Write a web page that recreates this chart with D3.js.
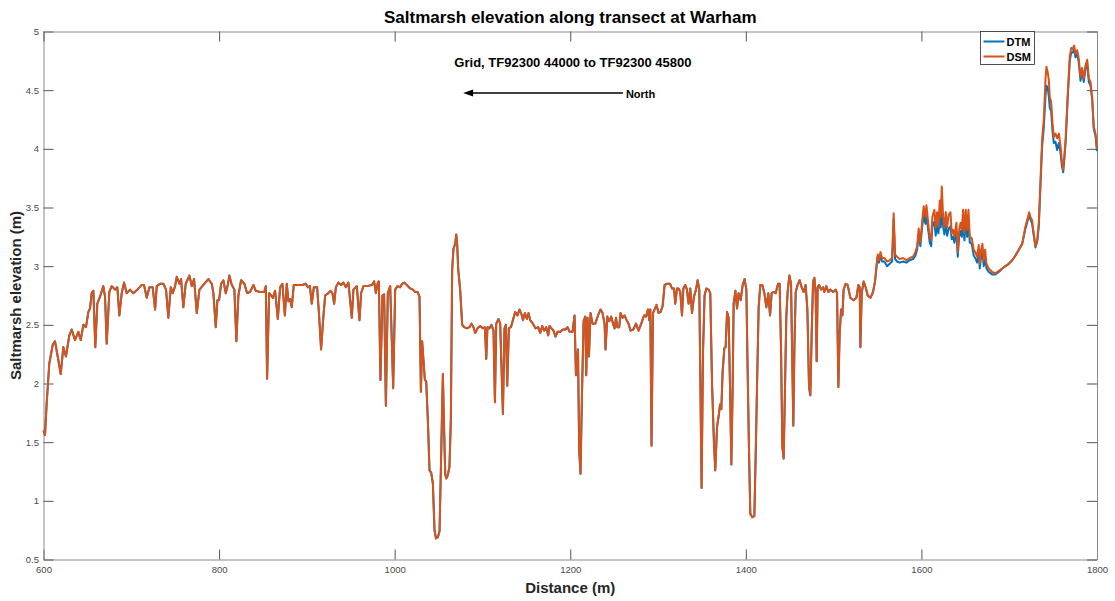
<!DOCTYPE html>
<html>
<head>
<meta charset="utf-8">
<script src="https://cdn.jsdelivr.net/npm/d3@7"></script>
<style>
body { margin: 0; background: #fff; }
svg text { font-family: "Liberation Sans", Arial, Helvetica, sans-serif; }
</style>
</head>
<body>
<div id="chart"></div>
<script>

// elevation profile, [distance (m), elevation (m)]
var dsmProfile = [
  [600,1.60],[601.7,1.56],[603.6,1.83],[606.6,2.17],[610.5,2.33],[613.1,2.36],[616.9,2.20],[619.6,2.08],
  [622.6,2.31],[625.6,2.23],[629.4,2.41],[632.1,2.46],[635.9,2.37],[639.7,2.44],[642.4,2.37],[645.4,2.50],
  [648.4,2.48],[651.1,2.61],[653,2.64],[654.9,2.77],[656.8,2.79],[659,2.31],[661.3,2.68],[664.4,2.74],
  [668.1,2.83],[670.1,2.74],[672,2.34],[675,2.78],[677.7,2.83],[681.5,2.80],[684.1,2.82],[686.4,2.58],
  [689.1,2.77],[691.7,2.86],[694.8,2.77],[698.6,2.80],[702.3,2.77],[706.9,2.80],[711.9,2.84],[714.5,2.84],
  [717.6,2.73],[720.6,2.82],[724.4,2.82],[727.1,2.63],[729,2.83],[732.8,2.85],[736.5,2.85],[739.6,2.80],
  [742.2,2.56],[745,2.82],[747.2,2.77],[749.9,2.83],[751.8,2.91],[754.8,2.85],[756.7,2.89],[759.3,2.65],
  [762,2.85],[766.2,2.92],[768.9,2.83],[771.5,2.89],[774.6,2.60],[777.6,2.80],[782.1,2.84],[787.8,2.89],
  [791.7,2.85],[793.5,2.77],[796.2,2.48],[798.1,2.71],
  [800,2.71],[802.3,2.85],[804.9,2.88],[807.6,2.77],[809.9,2.84],[811.7,2.92],[814.5,2.84],[817.4,2.80],
  [819.7,2.36],[822,2.75],[825.1,2.88],[828.8,2.85],[831.9,2.77],[835.3,2.78],[839.1,2.84],[841.8,2.79],
  [846.7,2.78],[851.6,2.78],[853.2,2.83],[854.7,2.04],[857,2.77],[859.3,2.75],[861.2,2.73],[863.8,2.79],
  [866.9,2.55],[869.5,2.82],[872.1,2.85],[874.9,2.58],[877.1,2.85],[879,2.70],[880.9,2.72],[882.8,2.65],
  [885.1,2.84],[889.7,2.84],[894.9,2.84],[898.8,2.85],[901.1,2.82],[903.4,2.83],[905.6,2.68],[907.9,2.82],
  [911.7,2.82],[914,2.57],[916.2,2.29],[918.5,2.54],[920.8,2.75],[924.5,2.77],[926.8,2.79],[929.1,2.77],
  [931.1,2.68],[933,2.82],[936,2.86],[939,2.84],[941.6,2.86],[944.4,2.82],[947.3,2.86],[951.2,2.56],
  [953,2.80],[956.9,2.83],[959.9,2.54],[961.8,2.77],[964.4,2.83],[968.3,2.83],[974,2.84],[976.6,2.87],
  [978.6,2.77],[980.8,2.86],[982,2.87],[983.8,2.03],[986.1,2.75],[988,2.76],[990,1.81],[992.2,2.77],
  [994.9,2.83],[998.3,1.96],
  [1000.6,2.80],[1003.2,2.83],[1006.3,2.82],[1008.5,2.85],[1010.8,2.86],[1013.9,2.84],[1017.7,2.81],
  [1020.7,2.80],[1023.4,2.78],[1026,2.78],[1028.3,2.74],[1029.9,1.93],[1031.3,2.36],[1032.8,2.20],
  [1034.4,2.03],[1035.9,2.02],[1037.8,1.69],[1039.7,1.26],[1041.6,1.24],[1043.5,1.15],[1045.4,0.75],
  [1047,0.68],[1049.2,0.69],[1051.1,0.74],[1053,1.40],[1054.9,2.08],[1056.4,1.58],[1057.6,1.23],
  [1058.7,1.19],[1060.6,1.22],[1062.4,1.29],[1064,1.69],[1065.5,2.97],[1067,3.15],[1069,3.19],
  [1070.1,3.27],[1071.2,3.19],[1072.4,2.97],[1074.6,2.80],[1076.9,2.50],[1079.2,2.48],[1082.3,2.47],
  [1085.2,2.48],[1087.5,2.51],[1089.8,2.48],[1091.7,2.43],[1094.4,2.47],[1097.4,2.49],[1100.5,2.47],
  [1102.8,2.48],[1104.3,2.21],[1105.7,2.48],[1108,2.47],[1110.3,2.50],[1112.6,2.45],[1114.2,1.84],
  [1115.7,2.51],[1118.3,2.55],[1120.2,2.51],[1123.3,1.74],[1125.1,2.47],[1126.7,2.50],[1128.2,1.98],
  [1130.1,2.47],[1132.4,2.48],[1134.7,2.54],[1137.3,2.61],[1139.9,2.58],[1142.2,2.63],[1144.5,2.59],
  [1146.1,2.54],[1148.4,2.60],[1150.6,2.55],[1152.5,2.60],[1154.4,2.54],[1157.5,2.51],[1160.4,2.47],
  [1163.5,2.48],[1165.8,2.43],[1168.1,2.49],[1170.3,2.45],[1172.6,2.48],[1174.9,2.41],[1176.4,2.49],
  [1178.7,2.47],[1181,2.45],[1183.2,2.40],[1185.5,2.44],[1188.6,2.44],[1191.7,2.46],[1194.3,2.46],
  [1196.9,2.48],[1199.2,2.44],
  [1202.6,2.44],[1204.9,2.58],[1206.5,2.07],[1208.8,2.29],[1210.2,1.43],[1211.7,1.23],[1213.3,1.89],
  [1215.2,2.53],[1217.1,2.57],[1218.2,2.07],[1219.7,2.56],[1221.3,2.23],[1223.1,2.60],[1225.4,2.51],
  [1228.5,2.51],[1231.6,2.58],[1234.5,2.63],[1236.8,2.60],[1239.1,2.51],[1240.2,2.29],[1242.2,2.57],
  [1244.4,2.53],[1246.7,2.57],[1248.7,2.51],[1250.5,2.47],[1252.1,2.56],[1253.6,2.48],[1255.8,2.48],
  [1257.3,2.60],[1259.6,2.56],[1261.9,2.58],[1264.2,2.54],[1266.4,2.51],[1268.7,2.45],[1271.8,2.46],
  [1274.9,2.51],[1277.8,2.45],[1280.9,2.51],[1284,2.58],[1286.3,2.57],[1288.5,2.63],[1290,2.54],
  [1291.2,2.63],[1292.6,1.47],[1294.2,2.60],[1296,2.63],[1298.3,2.67],[1300.6,2.60],[1302.9,2.61],
  [1305.2,2.66],[1307.5,2.84],[1310.5,2.85],[1313.6,2.85],[1315.9,2.81],[1318.2,2.81],[1319.6,2.68],
  [1321.6,2.81],[1323.4,2.81],[1325.3,2.78],[1327.3,2.58],[1328.8,2.81],[1331,2.84],[1332.9,2.80],
  [1334.8,2.68],[1336.7,2.81],[1338.7,2.60],[1340.9,2.74],[1343.2,2.80],[1345.1,2.88],[1347,2.80],
  [1348.5,1.83],[1349.6,1.11],[1351.2,2.26],[1353,2.75],[1355,2.81],[1357.6,2.80],[1359.5,2.77],
  [1361.5,2.00],[1363.7,1.49],[1365.2,1.26],[1367.2,1.63],[1369,1.72],[1370.6,1.82],[1372.1,1.78],
  [1373.5,2.09],[1375.5,2.30],[1377,2.31],[1378.6,2.61],[1380.4,2.56],[1382,1.97],[1383.5,1.31],
  [1385,1.97],[1386.1,2.68],[1388.1,2.79],[1390,2.64],[1391.8,2.77],[1394.1,2.71],[1396.4,2.84],
  [1398.6,2.89],
  [1400.6,2.80],[1402,2.14],[1403.6,1.43],[1405.1,0.89],[1407.4,0.86],[1409.7,0.87],[1411.2,1.38],
  [1412.8,2.00],[1414.6,2.65],[1416.5,2.84],[1418.8,2.84],[1421.1,2.77],[1423.4,2.65],[1425.6,2.77],
  [1427.6,2.58],[1429.4,2.77],[1431.7,2.78],[1434,2.77],[1436.7,2.85],[1438.5,2.85],[1440.1,2.29],
  [1441.6,1.46],[1443.1,1.36],[1444.7,2.00],[1446.1,2.57],[1447.6,2.78],[1449.6,2.92],[1451.5,2.85],
  [1453,2.14],[1454.1,1.64],[1455.3,2.29],[1456.8,2.78],[1459,2.84],[1461.3,2.88],[1463.6,2.82],
  [1465.9,2.78],[1468.1,2.84],[1470.1,2.63],[1472,1.97],[1473.5,1.90],[1475,2.43],[1476.6,2.87],
  [1478.1,2.90],[1479.5,2.77],[1480.7,2.19],[1481.8,2.82],[1483.4,2.84],[1485.7,2.80],[1488,2.82],
  [1489.4,2.78],[1491.7,2.83],[1494,2.78],[1496.3,2.80],[1499.4,2.78],[1502.3,2.80],[1503.9,2.77],
  [1505.4,1.97],[1506.9,2.43],[1508.5,2.63],[1510,2.58],[1511.4,2.80],[1513.7,2.85],[1516,2.84],
  [1519.1,2.73],[1522.8,2.71],[1525.9,2.73],[1528.2,2.84],[1529.7,2.82],[1530.5,2.31],[1532,2.77],
  [1534.2,2.87],[1536.5,2.82],[1538.8,2.75],[1541.9,2.73],
  [1544.9,2.78],[1547.2,2.87],[1548.7,3.00],[1550.2,3.10],[1551.8,3.05],[1553.3,3.12],[1555.2,3.07],
  [1557.8,3.07],[1560.9,3.04],[1563.8,3.05],[1566.6,3.07],[1568.4,3.45],[1570,3.10],[1572.3,3.08],
  [1575.2,3.06],[1579.1,3.07],[1582.9,3.05],[1586.6,3.07],[1590.5,3.08],[1593.1,3.12],[1595.1,3.17],
  [1596.9,3.32],[1598.8,3.20],[1600.8,3.38],[1602.6,3.51],[1604.6,3.42],[1605.7,3.52],[1607.6,3.38],
  [1609.5,3.25],[1611.1,3.22],[1612.5,3.42],[1614.8,3.48],[1616.3,3.33],[1617.9,3.46],[1619.4,3.34],
  [1620.9,3.56],[1622,3.42],[1623.2,3.68],[1624.7,3.42],[1626.2,3.33],[1627.7,3.46],[1629.3,3.33],
  [1631.1,3.44],[1633.1,3.46],[1634.5,3.28],[1636.1,3.31],[1637.6,3.25],[1639.9,3.37],[1641.4,3.12],
  [1643,3.31],[1644.6,3.37],[1646,3.31],[1647.5,3.48],[1649,3.28],[1650.5,3.48],[1652.1,3.31],
  [1653.6,3.48],[1655.1,3.25],[1657.3,3.24],[1659.6,3.14],[1661.9,3.11],[1663.5,3.08],[1665.3,3.18],
  [1666.5,3.02],[1668,3.14],[1669.5,3.19],[1671,3.05],[1672.6,3.14],[1674.1,3.02],[1676.7,2.98],
  [1680.6,2.95],[1684.3,2.94],[1688.1,2.96],[1692,2.98],[1695.7,3.00],[1699.5,3.02],[1703.4,3.05],
  [1707.1,3.09],[1710.9,3.14],[1714.8,3.19],[1718.5,3.34],[1721.1,3.41],[1722.7,3.46],[1724.2,3.42],
  [1726.1,3.39],[1728,3.27],[1729.9,3.17],[1731.9,3.22],[1733.7,3.37],[1735.6,3.73],[1737.5,4.08],
  [1739.4,4.25],[1741.3,4.59],[1742.4,4.70],[1743.9,4.65],[1745.1,4.59],[1746.2,4.44],[1747.8,4.40],
  [1749.3,4.22],[1750.8,4.10],[1752.7,4.13],[1754.6,4.09],[1756.5,4.13],[1758.4,4.03],[1759.9,3.90],
  [1761.5,3.82],[1762.9,3.95],[1764.4,4.10],[1766.7,4.47],[1769,4.79],[1770.6,4.86],[1772.4,4.85],
  [1774,4.88],[1775.5,4.81],[1777.4,4.84],[1779.2,4.77],[1781.2,4.61],[1783.1,4.69],[1784.9,4.60],
  [1786.9,4.71],[1788.8,4.76],[1790.7,4.60],[1792.6,4.57],[1794.5,4.44],[1796.3,4.19],[1798.3,4.13],
  [1800,4.00]
];

// DTM only separates from DSM past ~1545 m; before that both lines coincide
var dtmSplit = 1544.9;
var dtmTail = [
  [1544.9,2.78],[1547.2,2.87],[1548.7,2.98],[1550.2,3.08],[1551.8,3.03],[1553.3,3.10],[1555.2,3.04],
  [1557.8,3.04],[1560.9,3.00],[1563.8,3.02],[1566.6,3.04],[1568.4,3.40],[1570,3.06],[1572.3,3.04],
  [1575.2,3.03],[1579.1,3.04],[1582.9,3.03],[1586.6,3.05],[1590.5,3.06],[1593.1,3.09],[1595.1,3.14],
  [1596.9,3.27],[1598.8,3.17],[1600.8,3.33],[1602.6,3.44],[1604.6,3.36],[1605.7,3.44],[1607.6,3.32],
  [1609.5,3.20],[1611.1,3.17],[1612.5,3.34],[1614.8,3.38],[1616.3,3.26],[1617.9,3.36],[1619.4,3.28],
  [1620.9,3.42],[1622,3.33],[1623.2,3.50],[1624.7,3.34],[1626.2,3.27],[1627.7,3.36],[1629.3,3.26],
  [1631.1,3.32],[1633.1,3.34],[1634.5,3.23],[1636.1,3.25],[1637.6,3.20],[1639.9,3.29],[1641.4,3.08],
  [1643,3.25],[1644.6,3.30],[1646,3.25],[1647.5,3.38],[1649,3.22],[1650.5,3.38],[1652.1,3.25],
  [1653.6,3.38],[1655.1,3.20],[1657.3,3.19],[1659.6,3.09],[1661.9,3.06],[1663.5,3.03],[1665.3,3.12],
  [1666.5,2.98],[1668,3.08],[1669.5,3.12],[1671,3.00],[1672.6,3.08],[1674.1,2.98],[1676.7,2.95],
  [1680.6,2.93],[1684.3,2.93],[1688.1,2.95],[1692,2.98],[1695.7,3.00],[1699.5,3.02],[1703.4,3.05],
  [1707.1,3.09],[1710.9,3.14],[1714.8,3.19],[1718.5,3.32],[1721.1,3.39],[1722.7,3.43],[1724.2,3.40],
  [1726.1,3.36],[1728,3.26],[1729.9,3.16],[1731.9,3.21],[1733.7,3.34],[1735.6,3.68],[1737.5,4.02],
  [1739.4,4.18],[1741.3,4.45],[1742.4,4.54],[1743.9,4.52],[1745.1,4.45],[1746.2,4.35],[1747.8,4.32],
  [1749.3,4.15],[1750.8,4.05],[1752.7,4.06],[1754.6,3.99],[1756.5,4.05],[1758.4,3.97],[1759.9,3.86],
  [1761.5,3.80],[1762.9,3.92],[1764.4,4.07],[1766.7,4.44],[1769,4.75],[1770.6,4.82],[1772.4,4.82],
  [1774,4.85],[1775.5,4.78],[1777.4,4.81],[1779.2,4.74],[1781.2,4.58],[1783.1,4.66],[1784.9,4.57],
  [1786.9,4.68],[1788.8,4.73],[1790.7,4.57],[1792.6,4.54],[1794.5,4.42],[1796.3,4.17],[1798.3,4.11],
  [1800,3.98]
];

var seriesNames = ["DTM", "DSM"];
var xTicks = [600, 800, 1000, 1200, 1400, 1600, 1800];
var yTicks = [0.5, 1, 1.5, 2, 2.5, 3, 3.5, 4, 4.5, 5];

var svgW = 1115;
var svgH = 601;
var margin = {left: 43.5, right: 18, top: 31.5, bottom: 41.5};
var chartW = svgW - margin.left - margin.right;
var chartH = svgH - margin.top - margin.bottom;

var colors = {DTM: "#0072BD", DSM: "#D95319"};

var svg = d3.select("#chart")
            .append("svg")
            .attr("width", svgW)
            .attr("height", svgH);

var g = svg.append("g")
           .attr("transform", `translate(${margin.left}, ${margin.top})`);

var xScale = d3.scaleLinear().domain([600, 1800]).range([0, chartW]);
var yScale = d3.scaleLinear().domain([0.5, 5]).range([chartH, 0]);

var dtmProfile = dsmProfile.filter(d => d[0] < dtmSplit).concat(dtmTail);

// axes, MATLAB style box with inward ticks on all four sides
function styleAxis(sel) {
    sel.select(".domain").attr("stroke", "#8a8a8a").attr("stroke-width", 1);
    sel.selectAll(".tick line").attr("stroke", "#555").attr("stroke-width", 1);
    sel.selectAll(".tick text")
       .attr("fill", "#4a4a4a")
       .style("font-size", "9.5px");
}

g.append("g")
 .attr("transform", `translate(0, ${chartH})`)
 .call(d3.axisBottom(xScale).tickValues(xTicks).tickSizeInner(-10).tickSizeOuter(0).tickPadding(7).tickFormat(d => d))
 .call(styleAxis);

g.append("g")
 .call(d3.axisLeft(yScale).tickValues(yTicks).tickSizeInner(-10).tickSizeOuter(0).tickPadding(4.5).tickFormat(d => d))
 .call(styleAxis);

g.append("g")
 .call(d3.axisTop(xScale).tickValues(xTicks).tickSizeInner(-10).tickSizeOuter(0).tickFormat(""))
 .call(styleAxis);

g.append("g")
 .attr("transform", `translate(${chartW}, 0)`)
 .call(d3.axisRight(yScale).tickValues(yTicks).tickSizeInner(-10).tickSizeOuter(0).tickFormat(""))
 .call(styleAxis);

// lines
var line = d3.line()
             .x(d => xScale(d[0]))
             .y(d => yScale(d[1]));

g.append("path")
 .datum(dtmProfile)
 .attr("d", line)
 .attr("fill", "none")
 .attr("stroke", colors.DTM)
 .attr("stroke-width", 2)
 .attr("stroke-linejoin", "round");

g.append("path")
 .datum(dsmProfile)
 .attr("d", line)
 .attr("fill", "none")
 .attr("stroke", colors.DSM)
 .attr("stroke-width", 2)
 .attr("stroke-linejoin", "round");

// titles
svg.append("text")
   .attr("x", margin.left + chartW / 2)
   .attr("y", 23)
   .attr("text-anchor", "middle")
   .style("font-size", "17px")
   .style("font-weight", "bold")
   .attr("fill", "#000")
   .text("Saltmarsh elevation along transect at Warham");

svg.append("text")
   .attr("x", margin.left + chartW / 2)
   .attr("y", 592.5)
   .attr("text-anchor", "middle")
   .style("font-size", "15px")
   .style("font-weight", "bold")
   .attr("fill", "#262626")
   .text("Distance (m)");

svg.append("text")
   .attr("transform", `translate(20.5, ${margin.top + chartH / 2}) rotate(-90)`)
   .attr("text-anchor", "middle")
   .style("font-size", "15px")
   .style("font-weight", "bold")
   .attr("fill", "#262626")
   .text("Saltmarsh elevation (m)");

// annotations inside the axes
g.append("text")
 .attr("x", xScale(1203))
 .attr("y", 67 - margin.top)
 .attr("text-anchor", "middle")
 .style("font-size", "13px")
 .style("font-weight", "bold")
 .attr("fill", "#000")
 .text("Grid, TF92300 44000 to TF92300 45800");

var arrowY = 93 - margin.top;
var arrowTip = xScale(1078);
var arrowTail = xScale(1260);
g.append("line")
 .attr("x1", arrowTail).attr("x2", arrowTip + 6)
 .attr("y1", arrowY).attr("y2", arrowY)
 .attr("stroke", "#000")
 .attr("stroke-width", 1.5);
g.append("path")
 .attr("d", `M${arrowTip},${arrowY} L${arrowTip + 10},${arrowY - 3.5} L${arrowTip + 10},${arrowY + 3.5} Z`)
 .attr("fill", "#000");
g.append("text")
 .attr("x", arrowTail + 3)
 .attr("y", 97.5 - margin.top)
 .style("font-size", "11px")
 .style("font-weight", "bold")
 .attr("fill", "#000")
 .text("North");

// legend
var legend = svg.append("g").attr("transform", "translate(980.5, 31.5)");
legend.append("rect")
      .attr("width", 54)
      .attr("height", 33)
      .attr("fill", "#fff")
      .attr("stroke", "#262626")
      .attr("stroke-width", 0.8);

seriesNames.forEach((name, i) => {
    var yy = 10 + i * 15;
    legend.append("line")
          .attr("x1", 3).attr("x2", 24)
          .attr("y1", yy).attr("y2", yy)
          .attr("stroke", colors[name])
          .attr("stroke-width", 2);
    legend.append("text")
          .attr("x", 26)
          .attr("y", yy + 4)
          .style("font-size", "11px")
          .style("font-weight", "bold")
          .attr("fill", "#000")
          .text(name);
});

</script>
</body>
</html>
